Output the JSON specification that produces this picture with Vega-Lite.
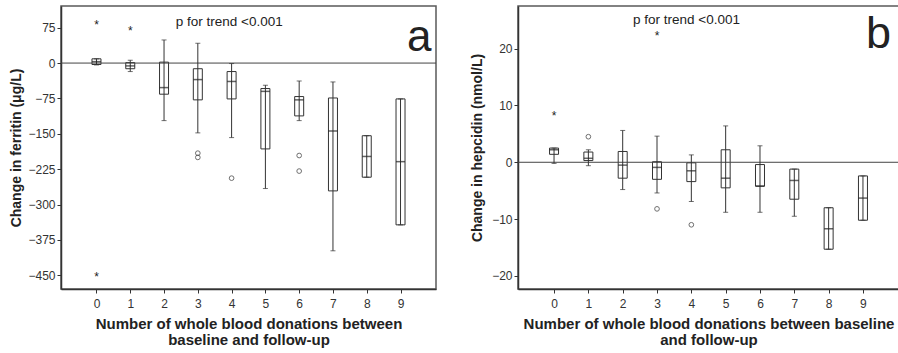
{
  "$schema": "https://vega.github.io/schema/vega-lite/v6.json",
  "padding": {"left": 8, "top": 5, "right": 0, "bottom": 0},
  "spacing": 31,
  "config": {
    "font": "Liberation Sans",
    "view": {"stroke": "#5a5a5a", "strokeWidth": 1.5},
    "axis": {
      "grid": false,
      "domainColor": "#333",
      "domainWidth": 1.5,
      "tickColor": "#333",
      "labelColor": "#333",
      "labelFontSize": 12,
      "titleFontSize": 14,
      "titleFontWeight": "bold",
      "titleColor": "#222",
      "tickSize": 4,
      "labelPadding": 2
    }
  },
  "datasets": {
    "ferritin_box": [
      {"donations": 0, "low": -4, "q1": -3, "median": 3, "q3": 9, "high": 9},
      {"donations": 1, "low": -18, "q1": -12, "median": -6, "q3": 1, "high": 6},
      {"donations": 2, "low": -122, "q1": -66, "median": -52, "q3": 2, "high": 49},
      {"donations": 3, "low": -148, "q1": -78, "median": -35, "q3": -12, "high": 42},
      {"donations": 4, "low": -158, "q1": -76, "median": -39, "q3": -18, "high": -1},
      {"donations": 5, "low": -266, "q1": -182, "median": -60, "q3": -54, "high": -47},
      {"donations": 6, "low": -122, "q1": -112, "median": -78, "q3": -71, "high": -38},
      {"donations": 7, "low": -398, "q1": -271, "median": -144, "q3": -74, "high": -40},
      {"donations": 8, "low": -242, "q1": -242, "median": -198, "q3": -154, "high": -154},
      {"donations": 9, "low": -343, "q1": -343, "median": -209, "q3": -76, "high": -76}
    ],
    "ferritin_points": [
      {"donations": 3, "value": -191, "kind": "outlier"},
      {"donations": 3, "value": -200, "kind": "outlier"},
      {"donations": 4, "value": -244, "kind": "outlier"},
      {"donations": 6, "value": -196, "kind": "outlier"},
      {"donations": 6, "value": -229, "kind": "outlier"},
      {"donations": 0, "value": 88, "kind": "extreme"},
      {"donations": 0, "value": -447, "kind": "extreme"},
      {"donations": 1, "value": 74, "kind": "extreme"}
    ],
    "hepcidin_box": [
      {"donations": 0, "low": -0.2, "q1": 1.4, "median": 2.2, "q3": 2.5, "high": 2.5},
      {"donations": 1, "low": -0.6, "q1": 0.3, "median": 0.7, "q3": 1.8, "high": 2.2},
      {"donations": 2, "low": -4.8, "q1": -2.8, "median": -0.5, "q3": 1.9, "high": 5.6},
      {"donations": 3, "low": -5.4, "q1": -3.0, "median": -0.9, "q3": 0.1, "high": 4.6},
      {"donations": 4, "low": -6.9, "q1": -3.4, "median": -1.5, "q3": -0.1, "high": 1.3},
      {"donations": 5, "low": -8.8, "q1": -4.5, "median": -2.8, "q3": 2.2, "high": 6.4},
      {"donations": 6, "low": -8.8, "q1": -4.2, "median": -4.2, "q3": -0.4, "high": 2.9},
      {"donations": 7, "low": -9.5, "q1": -6.5, "median": -3.2, "q3": -1.2, "high": -1.2},
      {"donations": 8, "low": -15.3, "q1": -15.3, "median": -11.7, "q3": -8.0, "high": -8.0},
      {"donations": 9, "low": -10.2, "q1": -10.2, "median": -6.3, "q3": -2.4, "high": -2.4}
    ],
    "hepcidin_points": [
      {"donations": 1, "value": 4.5, "kind": "outlier"},
      {"donations": 3, "value": -8.2, "kind": "outlier"},
      {"donations": 4, "value": -11.0, "kind": "outlier"},
      {"donations": 0, "value": 8.7, "kind": "extreme"},
      {"donations": 3, "value": 22.7, "kind": "extreme"}
    ]
  },
  "hconcat": [
    {
      "width": 375,
      "height": 283,
      "layer": [
        {
          "data": {"name": "ferritin_box"},
          "mark": {"type": "bar", "size": 9, "fill": "white", "stroke": "#333", "strokeWidth": 1},
          "encoding": {
            "x": {
              "field": "donations", "type": "quantitative",
              "scale": {"domain": [-1.05, 10.05], "nice": false, "zero": false, "padding": 0},
              "axis": {"values": [0, 1, 2, 3, 4, 5, 6, 7, 8, 9], "title": ["Number of whole blood donations between", "baseline and follow-up"], "titleFontSize": 15, "titlePadding": 7, "titleLineHeight": 16, "labelPadding": 5}
            },
            "y": {
              "field": "q1", "type": "quantitative",
              "scale": {"domain": [-479, 121], "nice": false, "zero": false, "padding": 0},
              "axis": {"values": [75, 0, -75, -150, -225, -300, -375, -450], "title": "Change in ferritin (μg/L)", "minExtent": 30, "maxExtent": 30, "titlePadding": 8}
            },
            "y2": {"field": "q3"}
          }
        },
        {
          "data": {"values": [{}]},
          "mark": {"type": "rule", "color": "#444", "strokeWidth": 1},
          "encoding": {"y": {"datum": 0, "type": "quantitative"}}
        },
        {
          "data": {"name": "ferritin_box"},
          "mark": {"type": "rule", "color": "#333", "strokeWidth": 1},
          "encoding": {
            "x": {"field": "donations", "type": "quantitative"},
            "y": {"field": "low", "type": "quantitative"},
            "y2": {"field": "high"}
          }
        },
        {
          "data": {"name": "ferritin_box"},
          "mark": {"type": "tick", "orient": "horizontal", "size": 5, "thickness": 1, "color": "#333"},
          "encoding": {
            "x": {"field": "donations", "type": "quantitative"},
            "y": {"field": "low", "type": "quantitative"}
          }
        },
        {
          "data": {"name": "ferritin_box"},
          "mark": {"type": "tick", "orient": "horizontal", "size": 5, "thickness": 1, "color": "#333"},
          "encoding": {
            "x": {"field": "donations", "type": "quantitative"},
            "y": {"field": "high", "type": "quantitative"}
          }
        },
        {
          "data": {"name": "ferritin_box"},
          "mark": {"type": "tick", "orient": "horizontal", "size": 9, "thickness": 1.5, "color": "#222"},
          "encoding": {
            "x": {"field": "donations", "type": "quantitative"},
            "y": {"field": "median", "type": "quantitative"}
          }
        },
        {
          "data": {"name": "ferritin_points"},
          "transform": [{"filter": "datum.kind === 'outlier'"}],
          "mark": {"type": "point", "shape": "circle", "size": 22, "filled": false, "stroke": "#333", "strokeWidth": 1},
          "encoding": {
            "x": {"field": "donations", "type": "quantitative"},
            "y": {"field": "value", "type": "quantitative"}
          }
        },
        {
          "data": {"name": "ferritin_points"},
          "transform": [{"filter": "datum.kind === 'extreme'"}],
          "mark": {"type": "text", "text": "*", "fontSize": 12, "baseline": "middle", "dy": 3, "color": "#222"},
          "encoding": {
            "x": {"field": "donations", "type": "quantitative"},
            "y": {"field": "value", "type": "quantitative"}
          }
        },
        {
          "data": {"values": [{}]},
          "mark": {"type": "text", "text": "p for trend <0.001", "fontSize": 13.5, "baseline": "middle", "color": "#222"},
          "encoding": {"x": {"datum": 3.93, "type": "quantitative"}, "y": {"datum": 88, "type": "quantitative"}}
        },
        {
          "data": {"values": [{}]},
          "mark": {"type": "text", "text": "a", "fontSize": 44, "align": "right", "baseline": "alphabetic", "color": "#222"},
          "encoding": {"x": {"datum": 9.92, "type": "quantitative"}, "y": {"datum": 26, "type": "quantitative"}}
        }
      ]
    },
    {
      "width": 381,
      "height": 283,
      "layer": [
        {
          "data": {"name": "hepcidin_box"},
          "mark": {"type": "bar", "size": 9, "fill": "white", "stroke": "#333", "strokeWidth": 1},
          "encoding": {
            "x": {
              "field": "donations", "type": "quantitative",
              "scale": {"domain": [-1.05, 10.05], "nice": false, "zero": false, "padding": 0},
              "axis": {"values": [0, 1, 2, 3, 4, 5, 6, 7, 8, 9], "title": ["Number of whole blood donations between baseline", "and follow-up"], "titleFontSize": 15, "titlePadding": 7, "titleLineHeight": 16, "labelPadding": 5}
            },
            "y": {
              "field": "q1", "type": "quantitative",
              "scale": {"domain": [-22.3, 27.5], "nice": false, "zero": false, "padding": 0},
              "axis": {"values": [20, 10, 0, -10, -20], "title": "Change in hepcidin (nmol/L)", "minExtent": 26, "maxExtent": 26, "titlePadding": 8}
            },
            "y2": {"field": "q3"}
          }
        },
        {
          "data": {"values": [{}]},
          "mark": {"type": "rule", "color": "#444", "strokeWidth": 1},
          "encoding": {"y": {"datum": 0, "type": "quantitative"}}
        },
        {
          "data": {"name": "hepcidin_box"},
          "mark": {"type": "rule", "color": "#333", "strokeWidth": 1},
          "encoding": {
            "x": {"field": "donations", "type": "quantitative"},
            "y": {"field": "low", "type": "quantitative"},
            "y2": {"field": "high"}
          }
        },
        {
          "data": {"name": "hepcidin_box"},
          "mark": {"type": "tick", "orient": "horizontal", "size": 5, "thickness": 1, "color": "#333"},
          "encoding": {
            "x": {"field": "donations", "type": "quantitative"},
            "y": {"field": "low", "type": "quantitative"}
          }
        },
        {
          "data": {"name": "hepcidin_box"},
          "mark": {"type": "tick", "orient": "horizontal", "size": 5, "thickness": 1, "color": "#333"},
          "encoding": {
            "x": {"field": "donations", "type": "quantitative"},
            "y": {"field": "high", "type": "quantitative"}
          }
        },
        {
          "data": {"name": "hepcidin_box"},
          "mark": {"type": "tick", "orient": "horizontal", "size": 9, "thickness": 1.5, "color": "#222"},
          "encoding": {
            "x": {"field": "donations", "type": "quantitative"},
            "y": {"field": "median", "type": "quantitative"}
          }
        },
        {
          "data": {"name": "hepcidin_points"},
          "transform": [{"filter": "datum.kind === 'outlier'"}],
          "mark": {"type": "point", "shape": "circle", "size": 22, "filled": false, "stroke": "#333", "strokeWidth": 1},
          "encoding": {
            "x": {"field": "donations", "type": "quantitative"},
            "y": {"field": "value", "type": "quantitative"}
          }
        },
        {
          "data": {"name": "hepcidin_points"},
          "transform": [{"filter": "datum.kind === 'extreme'"}],
          "mark": {"type": "text", "text": "*", "fontSize": 12, "baseline": "middle", "dy": 3, "color": "#222"},
          "encoding": {
            "x": {"field": "donations", "type": "quantitative"},
            "y": {"field": "value", "type": "quantitative"}
          }
        },
        {
          "data": {"values": [{}]},
          "mark": {"type": "text", "text": "p for trend <0.001", "fontSize": 13.5, "baseline": "middle", "color": "#222"},
          "encoding": {"x": {"datum": 3.86, "type": "quantitative"}, "y": {"datum": 25, "type": "quantitative"}}
        },
        {
          "data": {"values": [{}]},
          "mark": {"type": "text", "text": "b", "fontSize": 45, "align": "right", "baseline": "alphabetic", "color": "#222"},
          "encoding": {"x": {"datum": 9.82, "type": "quantitative"}, "y": {"datum": 20.1, "type": "quantitative"}}
        }
      ]
    }
  ]
}
